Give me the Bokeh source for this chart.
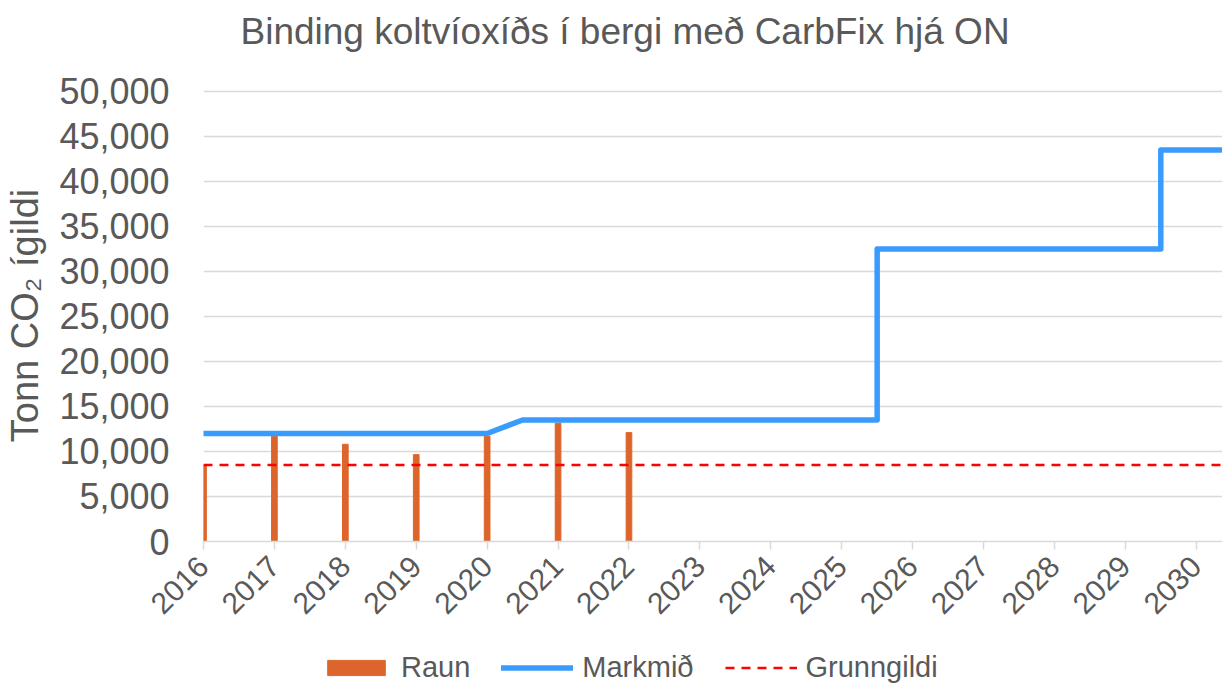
import math
from bokeh.plotting import figure
from bokeh.layouts import column
from bokeh.models import (Range1d, FixedTicker, NumeralTickFormatter, Legend, LegendItem, Title)
from bokeh.embed import file_html
from bokeh.resources import INLINE

# ---- data ----
years = [2016, 2017, 2018, 2019, 2020, 2021, 2022, 2023, 2024, 2025, 2026, 2027, 2028, 2029, 2030]
raun_years = [2016, 2017, 2018, 2019, 2020, 2021, 2022]
raun_values = [8500, 11700, 10800, 9650, 11700, 13150, 12100]
markmid_years = [2016, 2020, 2020.5, 2025.5, 2025.5, 2029.5, 2029.5, 2031]
markmid_values = [12000, 12000, 13500, 13500, 32500, 32500, 43500, 43500]
grunngildi_years = [2016, 2031]
grunngildi_values = [8500, 8500]
y_ticks = [0, 5000, 10000, 15000, 20000, 25000, 30000, 35000, 40000, 45000, 50000]

TEXT = "#595959"
FONT = "Liberation Sans"
ORANGE = "#DD652B"
BLUE = "#3A9BFF"
RED = "#FF0000"

p = figure(frame_width=1019, frame_height=452, output_backend="svg", toolbar_location=None,
           x_range=Range1d(2016, 2030.37), y_range=Range1d(0, 50222),
           min_border_left=203, min_border_right=0, min_border_top=89, min_border_bottom=101)
p.outline_line_color = None
p.background_fill_color = "white"

# spacer (closest to the frame), then the real title above it
spacer = Title(text=" ", text_font_size="1px", standoff=27)
p.add_layout(spacer, "above")
t = Title(text="Binding koltvíoxíðs í bergi með CarbFix hjá ON", align="left", offset=37,
          text_font=FONT, text_font_size="37px", text_font_style="normal", text_color=TEXT,
          standoff=15)
p.add_layout(t, "above")

p.vbar(x=raun_years, top=raun_values, width=0.08, bottom=0, color=ORANGE)
p.line(markmid_years, markmid_values, line_color=BLUE, line_width=5.5,
       line_join="round", line_cap="round")
p.line(grunngildi_years, grunngildi_values, line_color=RED, line_width=2.5, line_dash="9 7")

p.xgrid.grid_line_color = None
p.ygrid.grid_line_color = "#d9d9d9"
p.ygrid.grid_line_width = 1.5
p.ygrid.ticker = FixedTicker(ticks=y_ticks)

xa = p.xaxis[0]
xa.ticker = FixedTicker(ticks=years)
xa.major_label_orientation = math.pi / 4
xa.major_label_text_font = FONT
xa.major_label_text_font_size = "30px"
xa.major_label_text_color = TEXT
xa.axis_line_color = "#d9d9d9"
xa.axis_line_width = 1.5
xa.major_tick_line_color = "#d9d9d9"
xa.major_tick_line_width = 1.5
xa.major_tick_in = 0
xa.major_tick_out = 8
xa.minor_tick_line_color = None
xa.major_label_standoff = 12

ya = p.yaxis[0]
ya.ticker = FixedTicker(ticks=y_ticks)
ya.formatter = NumeralTickFormatter(format="0,0")
ya.major_label_text_font = FONT
ya.major_label_text_font_size = "36px"
ya.major_label_text_color = TEXT
ya.axis_line_color = None
ya.major_tick_line_color = None
ya.minor_tick_line_color = None
ya.major_label_standoff = 28
ya.axis_label = "Tonn CO₂ ígildi"
ya.axis_label_text_font = FONT
ya.axis_label_text_font_size = "38px"
ya.axis_label_text_font_style = "normal"
ya.axis_label_text_color = TEXT
ya.axis_label_standoff = 10

# ---- legend strip (separate small figure under the chart) ----
# proxy renderers use the same series, but lie outside this strip's ranges (not visible)
p2 = figure(width=1222, height=42, output_backend="svg", toolbar_location=None,
            x_range=Range1d(0, 1), y_range=Range1d(0, 1), min_border=0)
p2.axis.visible = False
p2.grid.visible = False
p2.outline_line_color = None
l_raun = p2.vbar(x=raun_years, top=raun_values, width=0.08, color=ORANGE)
l_mark = p2.line(markmid_years, markmid_values, line_color=BLUE, line_width=5.5, line_cap="round")
l_grunn = p2.line(grunngildi_years, grunngildi_values, line_color=RED, line_width=2.5,
                  line_dash="9 7")

legend = Legend(items=[LegendItem(label="Raun", renderers=[l_raun]),
                       LegendItem(label="Markmið", renderers=[l_mark]),
                       LegendItem(label="Grunngildi", renderers=[l_grunn])],
                orientation="horizontal", location=(117, 0),
                label_text_font=FONT, label_text_font_size="29px", label_text_color=TEXT,
                glyph_width=72, glyph_height=19, label_standoff=9, spacing=31,
                border_line_color=None, background_fill_alpha=0, padding=0, margin=0)
p2.add_layout(legend, "center")

open("out.html", "w").write(file_html(column(p, p2, spacing=0), INLINE))
